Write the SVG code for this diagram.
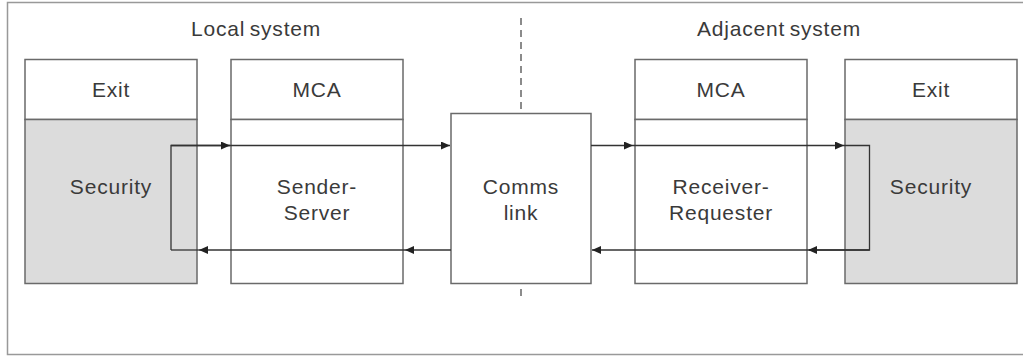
<svg xmlns="http://www.w3.org/2000/svg" width="1023" height="356" viewBox="0 0 1023 356">
<defs>
<style>
.frame{fill:none;stroke:#999;stroke-width:1.5}
.box{fill:#fff;stroke:#6a6a6a;stroke-width:1.5}
.sec{fill:#dcdcdc;stroke:#6a6a6a;stroke-width:1.5}
.conn{fill:none;stroke:#333;stroke-width:1.3}
.dash{fill:none;stroke:#666;stroke-width:1.5;stroke-dasharray:7,5}
text{font-family:"Liberation Sans",Arial,sans-serif;font-size:21px;letter-spacing:0.8px;word-spacing:-2px;fill:#3a3a3a;text-anchor:middle}
</style>
<marker id="ah" markerWidth="10" markerHeight="8" refX="9" refY="4" orient="auto" markerUnits="userSpaceOnUse">
<path d="M0,0 L9,4 L0,8 Z" fill="#222"/>
</marker>
</defs>
<rect class="frame" x="7.5" y="2.5" width="1030" height="352"/>
<text x="256" y="36">Local system</text>
<text x="779" y="36">Adjacent system</text>
<line class="dash" x1="521" y1="18" x2="521" y2="110"/>
<line class="dash" x1="521" y1="289" x2="521" y2="299"/>
<g id="local-exit">
<rect class="box" x="25" y="59.5" width="172" height="60"/>
<rect class="sec" x="25" y="119.5" width="172" height="164"/>
<text x="111" y="97">Exit</text>
<text x="111" y="194">Security</text>
</g>
<g id="local-mca">
<rect class="box" x="231" y="59.5" width="172" height="60"/>
<rect class="box" x="231" y="119.5" width="172" height="164"/>
<text x="317" y="97">MCA</text>
<text x="317" y="194">Sender-</text>
<text x="317" y="220">Server</text>
</g>
<g id="comms-link">
<rect class="box" x="451" y="113.5" width="140" height="170"/>
<text x="521" y="194">Comms</text>
<text x="521" y="220">link</text>
</g>
<g id="adjacent-mca">
<rect class="box" x="635" y="59.5" width="172" height="60"/>
<rect class="box" x="635" y="119.5" width="172" height="164"/>
<text x="721" y="97">MCA</text>
<text x="721" y="194">Receiver-</text>
<text x="721" y="220">Requester</text>
</g>
<g id="adjacent-exit">
<rect class="box" x="845" y="59.5" width="172" height="60"/>
<rect class="sec" x="845" y="119.5" width="172" height="164"/>
<text x="931" y="97">Exit</text>
<text x="931" y="194">Security</text>
</g>
<g id="connectors">
<polyline class="conn" points="171,250 171,145.5 230,145.5"/>
<line class="conn" x1="230" y1="145.5" x2="450" y2="145.5" marker-end="url(#ah)"/>
<line class="conn" x1="171" y1="145.5" x2="230" y2="145.5" marker-end="url(#ah)"/>
<line class="conn" x1="591" y1="145.5" x2="633" y2="145.5" marker-end="url(#ah)"/>
<line class="conn" x1="633" y1="145.5" x2="844" y2="145.5" marker-end="url(#ah)"/>
<polyline class="conn" points="844,145.5 869.5,145.5 869.5,250 809,250"/>
<line class="conn" x1="869.5" y1="250" x2="808" y2="250" marker-end="url(#ah)"/>
<line class="conn" x1="808" y1="250" x2="592" y2="250" marker-end="url(#ah)"/>
<line class="conn" x1="451" y1="250" x2="405" y2="250" marker-end="url(#ah)"/>
<line class="conn" x1="405" y1="250" x2="199" y2="250" marker-end="url(#ah)"/>
<line class="conn" x1="199" y1="250" x2="171" y2="250"/>
</g>
</svg>
